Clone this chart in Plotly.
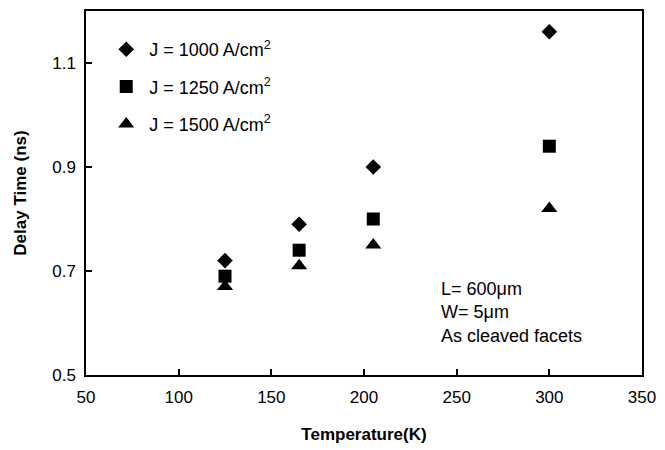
import plotly.graph_objects as go

temps = [125, 165, 205, 300]
j1000 = [0.72, 0.79, 0.90, 1.16]
j1250 = [0.69, 0.74, 0.80, 0.94]
j1500 = [0.67, 0.71, 0.75, 0.82]
names = ["J = 1000 A/cm<sup>2</sup>", "J = 1250 A/cm<sup>2</sup>", "J = 1500 A/cm<sup>2</sup>"]
symbols = ["diamond", "square", "triangle-up"]
sizes = [12, 13, 14]
x_ticks = [50, 100, 150, 200, 250, 300, 350]
y_ticks = [0.5, 0.7, 0.9, 1.1]

FONT = "Liberation Sans, Arial, sans-serif"

fig = go.Figure()
for i, (vals, nm, sym, sz) in enumerate(zip([j1000, j1250, j1500], names, symbols, sizes)):
    fig.add_trace(go.Scatter(
        x=temps, y=vals, mode="markers", name=nm, legendgroup=f"g{i}",
        marker=dict(symbol=sym, size=sz, color="black", line=dict(width=0)),
    ))

axis_common = dict(
    showline=True, linecolor="black", linewidth=1.5, mirror=True,
    ticks="inside", ticklen=6, tickwidth=1.5, tickcolor="black",
    showgrid=False, zeroline=False,
    tickfont=dict(family=FONT, size=17, color="black"),
)

fig.update_layout(
    width=665, height=450,
    margin=dict(l=86, r=17, t=9, b=75),
    paper_bgcolor="white", plot_bgcolor="white",
    font=dict(family=FONT, color="black"),
    xaxis=dict(range=[50, 350], tickvals=x_ticks, ticklabelstandoff=6,
               title=dict(text="<b>Temperature(K)</b>", font=dict(family=FONT, size=17), standoff=22),
               **axis_common),
    yaxis=dict(range=[0.5, 1.2], tickvals=y_ticks, tickformat=".1f", ticklabelstandoff=5,
               title=dict(text="<b>Delay Time (ns)</b>", font=dict(family=FONT, size=17), standoff=21),
               **axis_common),
    legend=dict(x=0.031, y=0.945, xanchor="left", yanchor="top",
                font=dict(family=FONT, size=18, color="black"),
                bgcolor="rgba(0,0,0,0)", tracegroupgap=11, itemwidth=36),
    showlegend=True,
)

fig.add_annotation(
    x=0.635, y=0.27, xref="paper", yref="paper", xanchor="left", yanchor="top",
    text="L= 600μm<br>W= 5μm<br>As cleaved facets", showarrow=False, align="left",
    font=dict(family=FONT, size=18, color="black"),
)

fig.write_html("out.html")
